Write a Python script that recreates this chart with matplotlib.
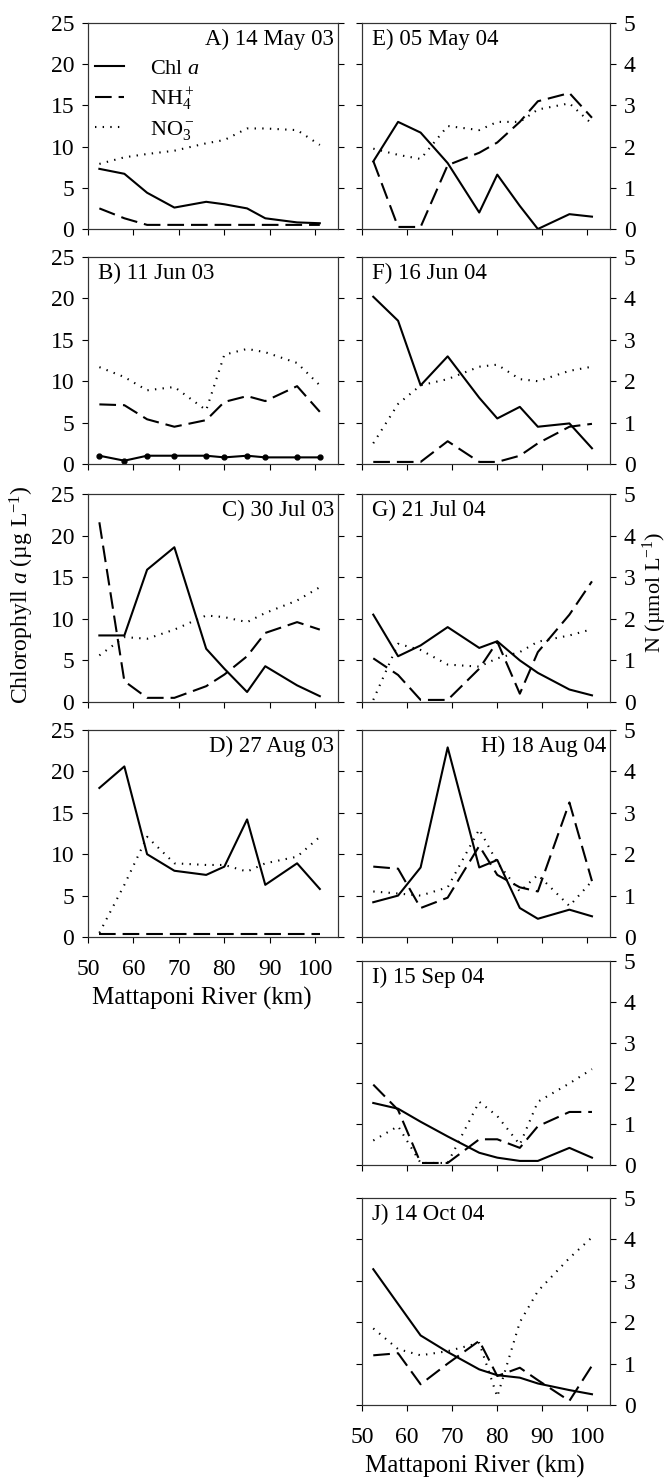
import matplotlib.pyplot as plt

# Times-like serif everywhere, mathtext in the same face
plt.rcParams["font.family"] = ["Liberation Serif", "DejaVu Serif"]
plt.rcParams["mathtext.fontset"] = "custom"
plt.rcParams["mathtext.rm"] = "Liberation Serif"
plt.rcParams["mathtext.it"] = "Liberation Serif:italic"
plt.rcParams["lines.scale_dashes"] = False

# Station positions along the river (km)
km = [52.5, 58, 63, 69, 76, 80, 85, 89, 96, 101]

# Chl a in ug/L, NH4+ and NO3- in umol/L
chl_A = [7.3, 6.7, 4.4, 2.6, 3.3, 3.0, 2.5, 1.3, 0.8, 0.7]
nh4_A = [0.5, 0.26, 0.1, 0.1, 0.1, 0.1, 0.1, 0.1, 0.1, 0.1]
no3_A = [1.58, 1.74, 1.82, 1.9, 2.08, 2.16, 2.44, 2.44, 2.4, 2.04]

chl_B = [1.0, 0.4, 1.0, 1.0, 1.0, 0.8, 1.0, 0.8, 0.8, 0.8]
nh4_B = [1.44, 1.42, 1.08, 0.9, 1.06, 1.5, 1.64, 1.52, 1.88, 1.26]
no3_B = [2.34, 2.1, 1.78, 1.86, 1.3, 2.64, 2.78, 2.7, 2.44, 1.9]

chl_C = [8.0, 8.0, 15.9, 18.6, 6.4, 4.0, 1.2, 4.3, 2.0, 0.7]
nh4_C = [4.32, 0.5, 0.1, 0.1, 0.38, 0.66, 1.1, 1.66, 1.92, 1.74]
no3_C = [1.12, 1.56, 1.52, 1.74, 2.08, 2.04, 1.92, 2.14, 2.44, 2.76]

chl_D = [18.0, 20.6, 10.0, 8.0, 7.5, 8.5, 14.2, 6.3, 8.9, 5.8]
nh4_D = [0.08, 0.08, 0.08, 0.08, 0.08, 0.08, 0.08, 0.08, 0.08, 0.08]
no3_D = [0.1, 1.26, 2.42, 1.78, 1.74, 1.74, 1.58, 1.78, 1.94, 2.42]

chl_E = [8.2, 13.0, 11.7, 8.0, 2.0, 6.6, 2.8, 0.0, 1.8, 1.5]
nh4_E = [1.65, 0.05, 0.05, 1.55, 1.85, 2.1, 2.6, 3.1, 3.3, 2.7]
no3_E = [1.95, 1.8, 1.7, 2.5, 2.4, 2.6, 2.6, 2.9, 3.05, 2.55]

chl_F = [20.2, 17.3, 9.5, 13.0, 8.0, 5.5, 6.9, 4.5, 4.9, 1.9]
nh4_F = [0.05, 0.05, 0.05, 0.55, 0.05, 0.05, 0.2, 0.5, 0.9, 0.97]
no3_F = [0.5, 1.45, 1.9, 2.05, 2.35, 2.4, 2.05, 2.0, 2.25, 2.35]

chl_G = [10.5, 5.5, 6.8, 9.0, 6.5, 7.3, 5.0, 3.5, 1.5, 0.8]
nh4_G = [1.05, 0.65, 0.05, 0.05, 0.8, 1.45, 0.2, 1.2, 2.1, 2.9]
no3_G = [0.05, 1.4, 1.25, 0.9, 0.85, 1.05, 1.2, 1.45, 1.6, 1.75]

chl_H = [4.2, 5.0, 8.4, 22.9, 8.4, 9.3, 3.5, 2.2, 3.3, 2.5]
nh4_H = [1.7, 1.65, 0.7, 0.95, 2.2, 1.5, 1.2, 1.1, 3.25, 1.35]
no3_H = [1.1, 1.05, 1.0, 1.2, 2.6, 1.8, 1.1, 1.5, 0.75, 1.35]

chl_I = [7.6, 6.9, 5.3, 3.5, 1.5, 0.9, 0.5, 0.5, 2.1, 0.9]
nh4_I = [1.97, 1.35, 0.05, 0.05, 0.63, 0.63, 0.42, 0.95, 1.3, 1.3]
no3_I = [0.6, 0.95, 0.05, 0.05, 1.55, 1.2, 0.5, 1.55, 2.0, 2.35]

chl_J = [16.4, 12.2, 8.4, 6.4, 4.3, 3.6, 3.3, 2.6, 1.8, 1.3]
nh4_J = [1.2, 1.25, 0.5, 1.0, 1.55, 0.7, 0.9, 0.6, 0.1, 0.95]
no3_J = [1.85, 1.35, 1.2, 1.3, 1.5, 0.2, 2.0, 2.75, 3.55, 4.05]

panel_titles = ["A) 14 May 03", "B) 11 Jun 03", "C) 30 Jul 03", "D) 27 Aug 03",
                "E) 05 May 04", "F) 16 Jun 04", "G) 21 Jul 04", "H) 18 Aug 04",
                "I) 15 Sep 04", "J) 14 Oct 04"]

x_ticks = [50, 60, 70, 80, 90, 100]
chl_ticks = [0, 5, 10, 15, 20, 25]
n_ticks = [0, 1, 2, 3, 4, 5]

# Panel layout: (column, row, title on the right?)
W, H = 670, 1479
rows_px = [(23, 229), (257, 464), (494, 702), (730, 937), (961, 1165), (1198, 1405)]
cols_px = [(88, 338), (362, 610)]
layout = [(0, 0, True), (0, 1, False), (0, 2, True), (0, 3, True),
          (1, 0, False), (1, 1, False), (1, 2, False), (1, 3, True),
          (1, 4, False), (1, 5, False)]
panel_data = [(chl_A, nh4_A, no3_A), (chl_B, nh4_B, no3_B), (chl_C, nh4_C, no3_C),
              (chl_D, nh4_D, no3_D), (chl_E, nh4_E, no3_E), (chl_F, nh4_F, no3_F),
              (chl_G, nh4_G, no3_G), (chl_H, nh4_H, no3_H), (chl_I, nh4_I, no3_I),
              (chl_J, nh4_J, no3_J)]

dash_style = (0, (12, 5))
dot_style = (0, (1, 4.5))
lw = 1.5
tick_fs = 17
title_fs = 16.5
label_fs = 17

fig = plt.figure(figsize=(W / 100, H / 100), dpi=100)

for i, (col, row, title_right) in enumerate(layout):
    x0, x1 = cols_px[col]
    top, bottom = rows_px[row]
    ax = fig.add_axes([x0 / W, 1 - bottom / H, (x1 - x0) / W, (bottom - top) / H])
    ax2 = ax.twinx()
    chl, nh4, no3 = panel_data[i]

    # Chl a on the left axis, nitrogen on the right axis
    if i == 1:
        ax.plot(km, chl, color="black", lw=lw, marker="o", markersize=3.5)
    else:
        ax.plot(km, chl, color="black", lw=lw, label="Chl $a$")
    ax2.plot(km, nh4, color="black", lw=lw, linestyle=dash_style, label="NH$_4^+$")
    ax2.plot(km, no3, color="black", lw=lw, linestyle=dot_style, label="NO$_3^-$")

    ax.set_xlim(50, 105)
    ax.set_ylim(0, 25)
    ax2.set_ylim(0, 5)
    ax.set_xticks(x_ticks)
    ax.set_yticks(chl_ticks)
    ax2.set_yticks(n_ticks)

    for a in (ax, ax2):
        a.tick_params(direction="out", length=4, width=0.8, labelsize=tick_fs, pad=6)
        for spine in a.spines.values():
            spine.set_linewidth(0.8)
            spine.set_color("#333333")
    ax.tick_params(axis="x", pad=12)

    if col == 0:
        ax2.set_yticklabels([])
    else:
        ax.set_yticklabels([])
    if not (i == 3 or i == 9):
        ax.set_xticklabels([])
    else:
        ax.set_xlabel("Mattaponi River (km)", fontsize=label_fs + 1)
        ax.xaxis.set_label_coords(25 / 55, -0.24)

    if title_right:
        ax.text(0.985, 0.97, panel_titles[i], transform=ax.transAxes,
                ha="right", va="top", fontsize=title_fs)
    else:
        ax.text(0.04, 0.97, panel_titles[i], transform=ax.transAxes,
                ha="left", va="top", fontsize=title_fs)

    # Legend only in the first panel
    if i == 0:
        handles = ax.get_lines() + ax2.get_lines()
        ax.legend(handles, [h.get_label() for h in handles], loc="upper left",
                  bbox_to_anchor=(0.0, 0.86), frameon=False, fontsize=16,
                  handlelength=1.3, handletextpad=1.2, labelspacing=0.3,
                  borderpad=0.2, borderaxespad=0.1)

# Shared axis titles
fig.text(22 / W, 1 - 595 / H, "Chlorophyll $a$ (µg L$^{-1}$)", rotation=90,
         ha="center", va="center", fontsize=label_fs)
fig.text(655 / W, 1 - 592 / H, "N (µmol L$^{-1}$)", rotation=90,
         ha="center", va="center", fontsize=16)

plt.savefig("out.png", dpi=100)
